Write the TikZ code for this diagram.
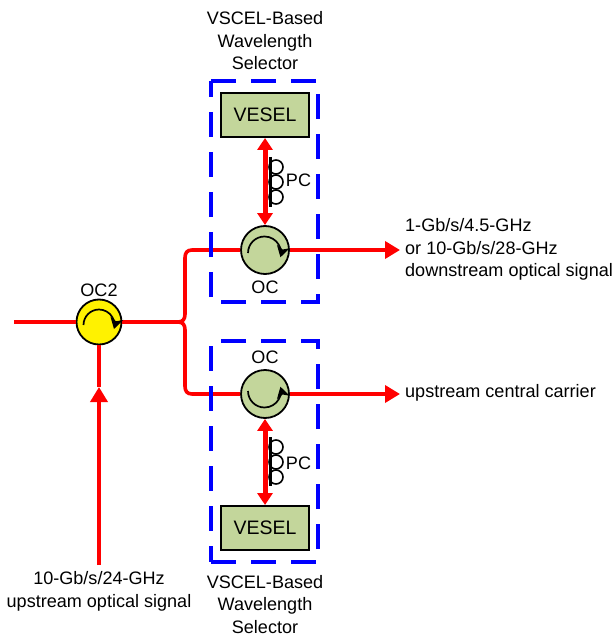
\documentclass[tikz,border=0pt]{standalone}
\usepackage{fontspec}
\setmainfont{Liberation Sans}
\usetikzlibrary{arrows.meta}
\definecolor{boxgreen}{HTML}{C3D69B}
\tikzset{
	txt/.style={font=\fontsize{18.05}{22.5}\selectfont, inner sep=0pt, align=center},
	circ/.style={circle, draw=black, line width=1.8pt, minimum size=48pt, inner sep=0pt},
	vesel/.style={draw=black, line width=2pt, fill=boxgreen, minimum width=88pt, minimum height=44pt, inner sep=0pt, font=\fontsize{19.5}{22}\selectfont},
	fiber/.style={draw=red, line width=3.6pt},
	sig/.style={fiber, -{Triangle[width=17pt,length=15pt]}},
	both/.style={fiber, line width=5pt, {Triangle[width=15pt,length=12pt]}-{Triangle[width=15pt,length=12pt]}},
	rot/.style={draw=black, line width=1.7pt, -{Stealth[width=13pt,length=11pt,inset=3pt]}},
	selbox/.style={draw=blue, line width=3.4pt, dash pattern=on 25pt off 15pt},
	coil/.style={draw=black, line width=1.6pt},
	pcbar/.style={draw=black, line width=3pt}
}
\begin{document}
\begin{tikzpicture}[x=1pt,y=1pt]
	\useasboundingbox (0,0) rectangle (615,-636);
	% circulators and mirrors
	\node[circ, fill=yellow, minimum size=45pt] (ocin) at (99,-322) {};
	\node[circ, fill=boxgreen] (octop) at (265,-250) {};
	\node[circ, fill=boxgreen] (ocbot) at (265,-394) {};
	\node[vesel] (veseltop) at (265,-115) {VESEL};
	\node[vesel] (veselbot) at (265,-528) {VESEL};
	\coordinate (start) at (14,-322);
	\coordinate (split) at (178,-322);
	\coordinate (outtop) at (400,-250);
	\coordinate (outbot) at (400,-394);
	\coordinate (inbot) at (99,-565);
	\coordinate (inhead) at (99,-387);
	% fibers
	\draw[fiber] (start) -- (ocin);
	\draw[fiber] (ocin) -- (split);
	\draw[fiber] (split) .. controls (183,-322) and (185,-319) .. (185,-314) -- (185,-258) .. controls (185,-253) and (187,-250) .. (192,-250) -- (octop);
	\draw[fiber] (split) .. controls (183,-322) and (185,-325) .. (185,-330) -- (185,-386) .. controls (185,-391) and (187,-394) .. (192,-394) -- (ocbot);
	\draw[sig] (octop) -- (outtop);
	\draw[sig] (ocbot) -- (outbot);
	\draw[sig] (inbot) -- (inhead);
	\draw[fiber] (inhead) -- (ocin);
	\draw[both] (veseltop) -- (octop);
	\draw[both] (veselbot) -- (ocbot);
	% rotation arrows
	\draw[rot] (83.5,-325) arc[start angle=180, end angle=-15, radius=15.5pt];
	\draw[rot] (248,-253) arc[start angle=180, end angle=-15, radius=16.5pt];
	\draw[rot] (248,-391) arc[start angle=180, end angle=375, radius=16.5pt];
	% polarization controllers
	\foreach \y in {-167,-182,-197,-447,-462,-477} {
		\draw[coil] (276,\y) circle[radius=7pt];
	}
	\draw[pcbar] (270,-157) -- (270,-207);
	\draw[pcbar] (270,-437) -- (270,-486);
	% selector boxes
	\draw[selbox] (211,-81) -- (318,-81) -- (318,-302) -- (211,-302) -- cycle;
	\draw[selbox] (211,-562) -- (318,-562) -- (318,-341) -- (211,-341) -- cycle;
	% labels
	\node[txt] (seltop) at (265,-41) {VSCEL-Based\\Wavelength\\Selector};
	\node[txt] (selbot) at (265,-604.5) {VSCEL-Based\\Wavelength\\Selector};
	\node[txt] (oc2lab) at (99,-290) {OC2};
	\node[txt] (octoplab) at (265,-287) {OC};
	\node[txt] (ocbotlab) at (265,-357) {OC};
	\node[txt] (pctop) at (298.5,-180) {PC};
	\node[txt] (pcbot) at (298.5,-463) {PC};
	\node[txt, align=left, anchor=west] (downlab) at (405,-249.5) {1-Gb/s/4.5-GHz\\or 10-Gb/s/28-GHz\\downstream optical signal};
	\node[txt, anchor=west] (uplab) at (405,-393) {upstream central carrier};
	\node[txt] (inlab) at (99,-591.5) {10-Gb/s/24-GHz\\upstream optical signal};
\end{tikzpicture}
\end{document}
